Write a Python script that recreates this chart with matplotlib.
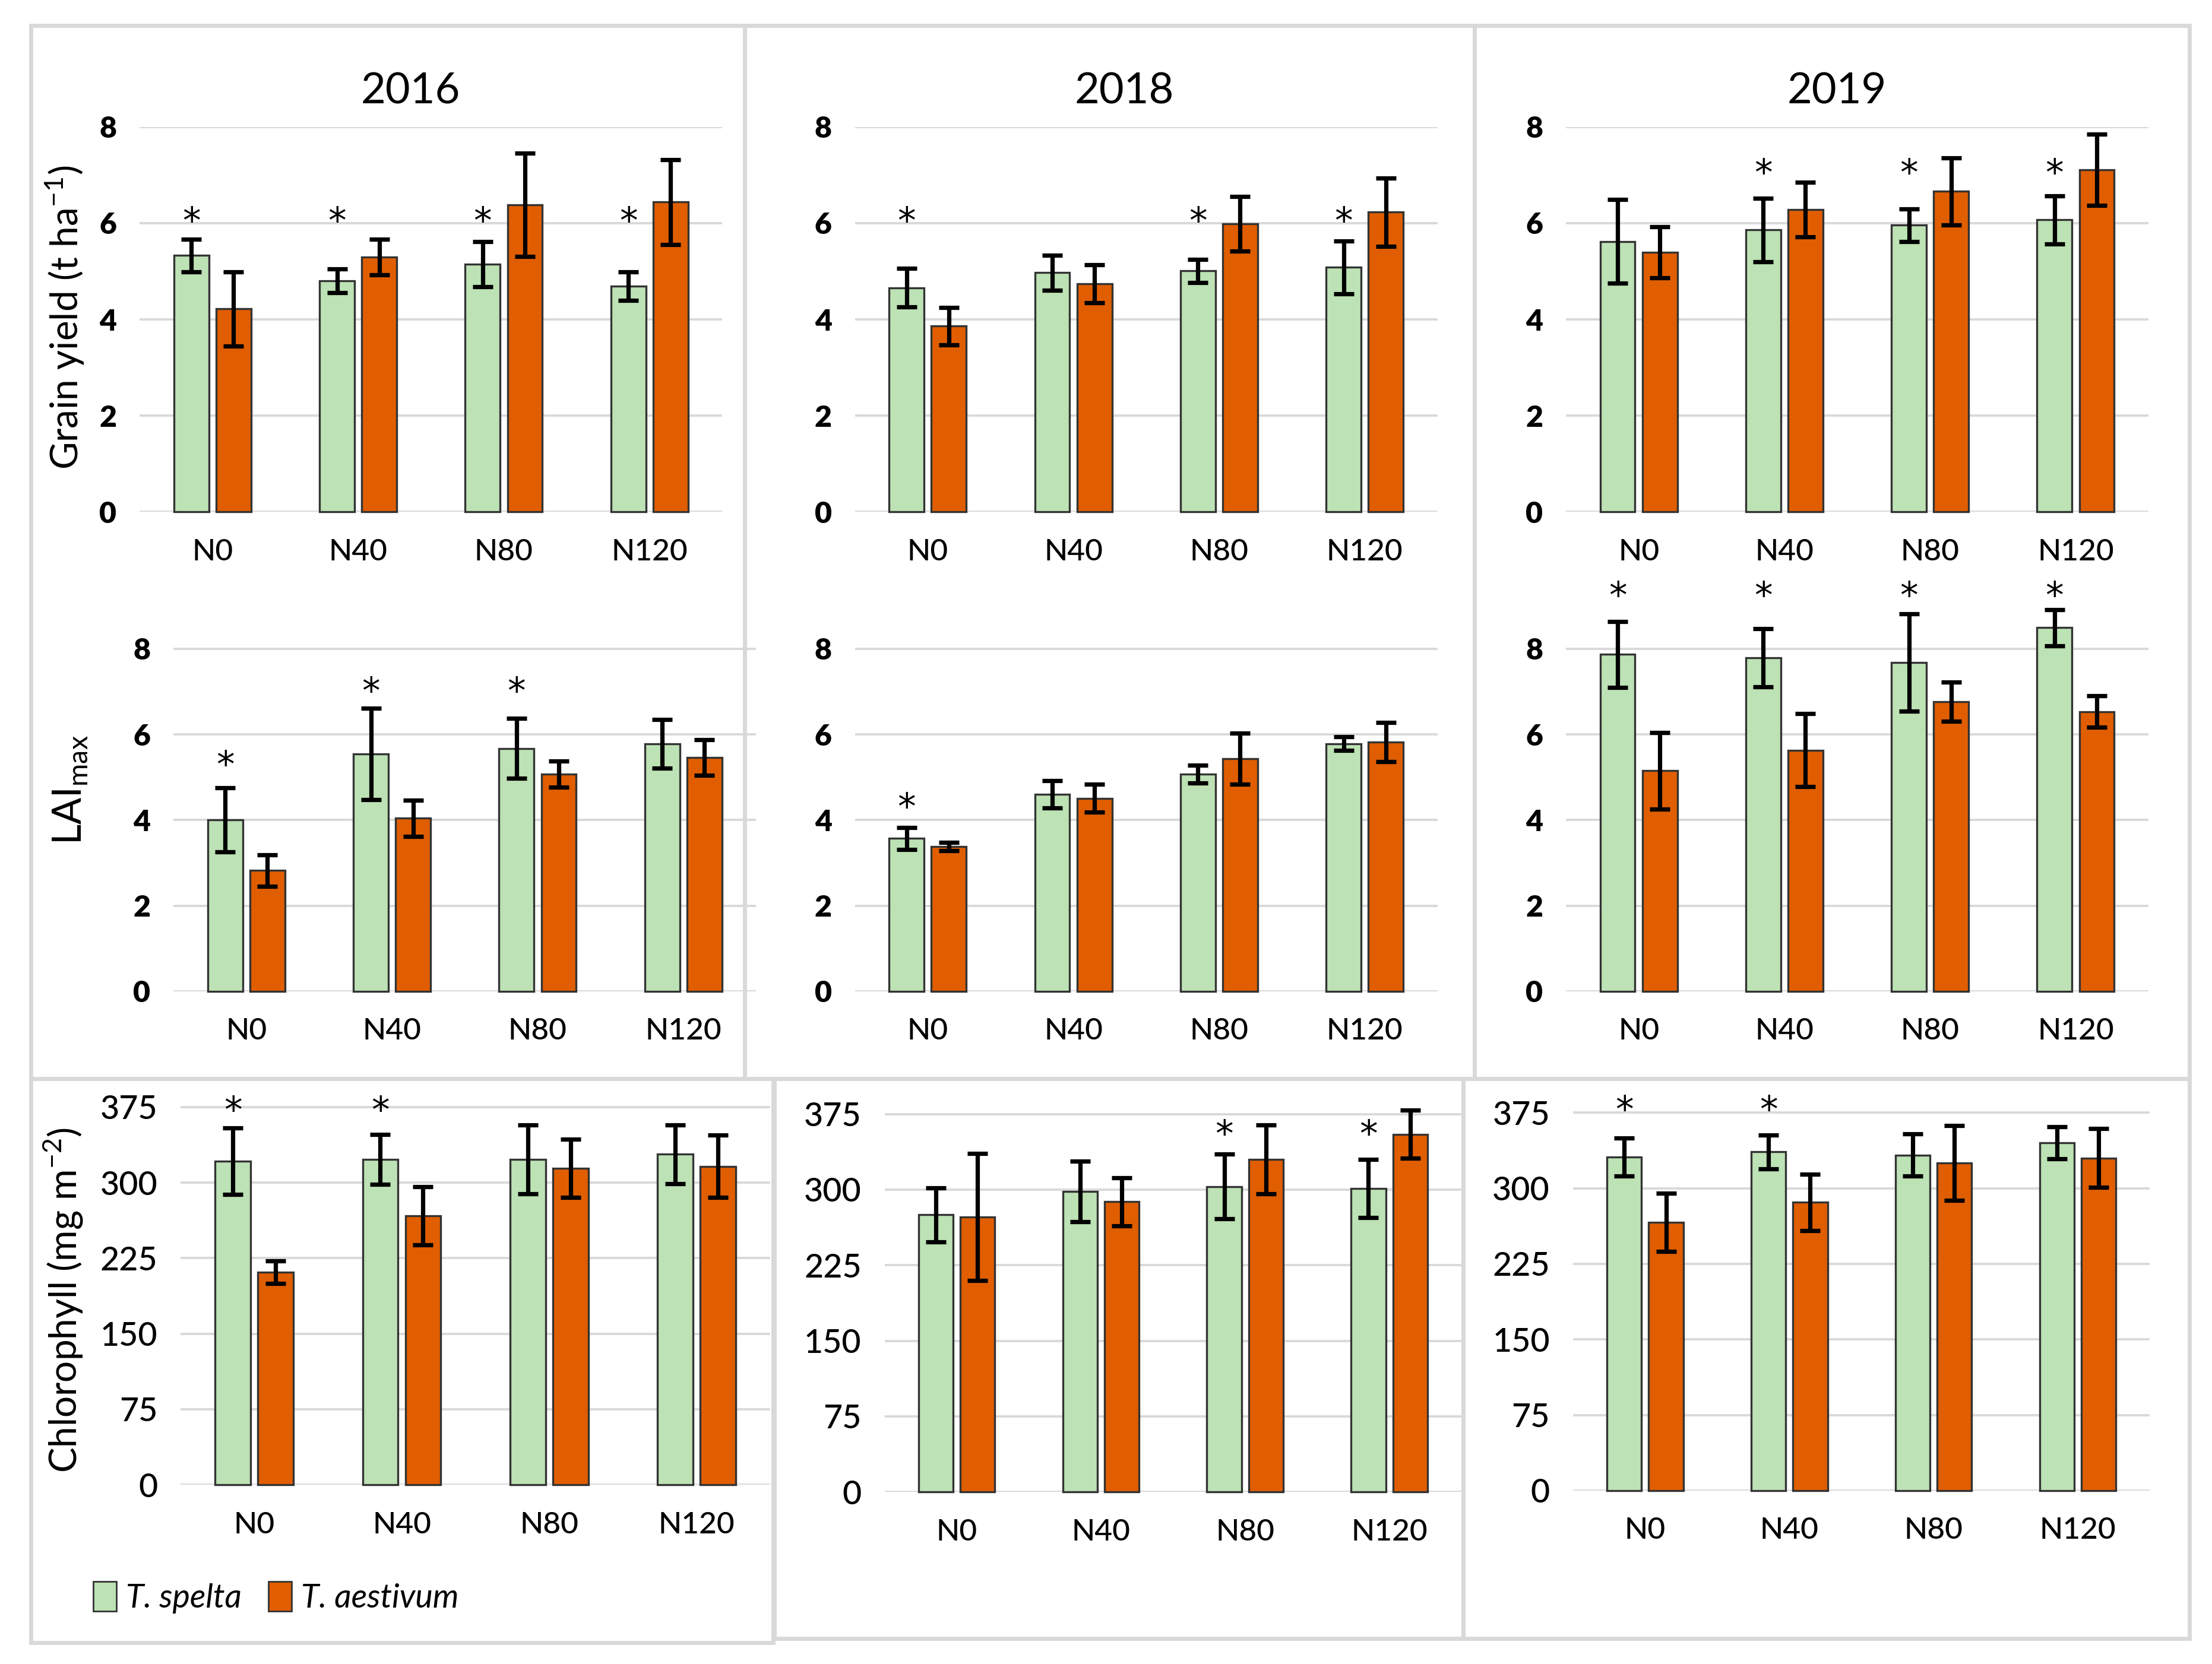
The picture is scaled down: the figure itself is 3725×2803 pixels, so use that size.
import matplotlib
matplotlib.use("Agg")
import matplotlib.pyplot as plt
from matplotlib.patches import Rectangle, Patch
import numpy as np

plt.rcParams['font.family'] = ['Lato', 'DejaVu Sans']

categories = ["N0", "N40", "N80", "N120"]
years = ["2016", "2018", "2019"]

# grain yield (t/ha)
gy_spelta = {"2016": [5.33, 4.80, 5.15, 4.69], "2018": [4.66, 4.97, 5.01, 5.08], "2019": [5.62, 5.86, 5.96, 6.07]}
gy_spelta_err = {"2016": [0.34, 0.25, 0.47, 0.30], "2018": [0.40, 0.36, 0.24, 0.55], "2019": [0.87, 0.66, 0.34, 0.50]}
gy_aest = {"2016": [4.22, 5.29, 6.38, 6.44], "2018": [3.86, 4.74, 5.99, 6.23], "2019": [5.40, 6.28, 6.66, 7.11]}
gy_aest_err = {"2016": [0.77, 0.37, 1.07, 0.88], "2018": [0.39, 0.39, 0.57, 0.71], "2019": [0.53, 0.57, 0.70, 0.74]}
gy_stars = {"2016": [6.0, 6.0, 6.0, 6.0], "2018": [6.0, None, 6.0, 6.0], "2019": [None, 7.0, 7.0, 7.0]}

# LAImax
lai_spelta = {"2016": [4.00, 5.54, 5.67, 5.78], "2018": [3.57, 4.60, 5.07, 5.78], "2019": [7.87, 7.79, 7.68, 8.49]}
lai_spelta_err = {"2016": [0.75, 1.07, 0.70, 0.57], "2018": [0.26, 0.32, 0.21, 0.16], "2019": [0.77, 0.68, 1.14, 0.42]}
lai_aest = {"2016": [2.82, 4.04, 5.07, 5.46], "2018": [3.38, 4.51, 5.43, 5.82], "2019": [5.15, 5.63, 6.76, 6.53]}
lai_aest_err = {"2016": [0.37, 0.42, 0.31, 0.41], "2018": [0.10, 0.32, 0.60, 0.46], "2019": [0.89, 0.85, 0.46, 0.37]}
lai_stars = {"2016": [5.25, 6.96, 6.96, None], "2018": [4.26, None, None, None], "2019": [9.2, 9.2, 9.2, 9.2]}

# chlorophyll (mg/m2)
chl_spelta = {"2016": [321, 323, 323, 328], "2018": [275, 298, 303, 301], "2019": [331, 336, 333, 345]}
chl_spelta_err = {"2016": [33, 25, 34, 29], "2018": [27, 30, 32, 29], "2019": [19, 17, 21, 16]}
chl_aest = {"2016": [211, 267, 314, 316], "2018": [273, 288, 330, 355], "2019": [266, 286, 325, 330]}
chl_aest_err = {"2016": [11, 29, 29, 31], "2018": [63, 24, 34, 24], "2019": [29, 28, 37, 29]}
chl_stars = {"2016": [370, 370, None, None], "2018": [None, None, 353, 353], "2019": [376, 376, None, None]}

green = "#bde2b5"
orange = "#e05e00"
W, H = 1568.0, 1180.0

fig = plt.figure(figsize=(18.625, 14.015), dpi=200)


def rect(left, width, top, bottom):
    return [left / W, 1 - bottom / H, width / W, (bottom - top) / H]


# light grey frames around each sub-figure
frames = [(22, 18, 528, 765), (528, 18, 1045, 765), (1045, 18, 1552, 765),
          (22, 765, 548, 1165), (549, 765, 1037, 1162), (1037, 765, 1552, 1162)]
for x0, y0, x1, y1 in frames:
    fig.add_artist(Rectangle((x0 / W, 1 - y1 / H), (x1 - x0) / W, (y1 - y0) / H,
                             transform=fig.transFigure, fill=False,
                             edgecolor="#d9d9d9", linewidth=2.5))


def draw(ax, sp, sp_err, ae, ae_err, stars, ylim, yticks, bold, ysize):
    x = np.arange(len(categories))
    w, off = 0.24, 0.145
    ax.bar(x - off, sp, w, color=green, edgecolor="#333333", linewidth=1.2, zorder=3, clip_on=False)
    ax.bar(x + off, ae, w, color=orange, edgecolor="#333333", linewidth=1.2, zorder=3, clip_on=False)
    for xs, v, e in [(x - off, sp, sp_err), (x + off, ae, ae_err)]:
        eb = ax.errorbar(xs, v, yerr=e, fmt="none", ecolor="black", elinewidth=2.6,
                         capsize=6, capthick=2.6, zorder=4)
        for art in eb.lines[1] + eb.lines[2]:
            art.set_clip_on(False)
    for i, s in enumerate(stars):
        if s is not None:
            ax.text(x[i] - off, s, "*", ha="center", va="center", fontsize=22,
                    family="DejaVu Sans", clip_on=False)
    ax.set_xlim(-0.5, 3.5)
    ax.set_ylim(*ylim)
    ax.set_yticks(yticks)
    ax.set_xticks(x)
    ax.set_xticklabels(categories, fontsize=18.5, fontweight="medium")
    for lab in ax.get_yticklabels():
        lab.set_fontsize(ysize)
        lab.set_fontweight("heavy" if bold else "medium")
    ax.tick_params(length=0)
    ax.tick_params(axis="x", pad=16)
    ax.tick_params(axis="y", pad=14)
    for sp_ in ax.spines.values():
        sp_.set_visible(False)
    ax.yaxis.grid(True, color="#d9d9d9", linewidth=1.4, zorder=0)
    ax.set_axisbelow(True)


gy_left = [99, 606, 1110]
lai_left = [123, 606, 1110]
chl_left = [128, 627, 1115]
chl_width = [418, 409, 409]
chl_bottom = [1053, 1058, 1057]
title_x = [291, 797, 1302]

for j, yr in enumerate(years):
    ax = fig.add_axes(rect(gy_left[j], 413, 90, 363))
    draw(ax, gy_spelta[yr], gy_spelta_err[yr], gy_aest[yr], gy_aest_err[yr], gy_stars[yr],
         (0, 8), [0, 2, 4, 6, 8], True, 18)
    fig.text(title_x[j] / W, 1 - 65 / H, yr, ha="center", va="center", fontsize=26)

    ax = fig.add_axes(rect(lai_left[j], 413, 703 - 9.4 * 30.375, 703))
    draw(ax, lai_spelta[yr], lai_spelta_err[yr], lai_aest[yr], lai_aest_err[yr], lai_stars[yr],
         (0, 9.4), [0, 2, 4, 6, 8], True, 18)

    b = chl_bottom[j]
    ax = fig.add_axes(rect(chl_left[j], chl_width[j], b - 385 * 268 / 375, b))
    draw(ax, chl_spelta[yr], chl_spelta_err[yr], chl_aest[yr], chl_aest_err[yr], chl_stars[yr],
         (0, 385), [0, 75, 150, 225, 300, 375], False, 20)

fig.text(46 / W, 1 - 225 / H, "Grain yield (t ha$^{\\mathregular{-1}}$)", rotation=90,
         ha="center", va="center", fontsize=23)
fig.text(50 / W, 1 - 560 / H, "LAI$_{\\mathregular{max}}$", rotation=90, ha="center", va="center", fontsize=24)
fig.text(45 / W, 1 - 922 / H, "Chlorophyll (mg m$^{\\mathregular{-2}}$)", rotation=90,
         ha="center", va="center", fontsize=23)

handles = [Patch(facecolor=green, edgecolor="#333333", label="T. spelta"),
           Patch(facecolor=orange, edgecolor="#333333", label="T. aestivum")]
fig.legend(handles=handles, loc="center left", bbox_to_anchor=(45 / W, 1 - 1133 / H), ncol=2,
           frameon=False, prop={"style": "italic", "size": 20}, handlelength=0.7,
           handleheight=1.0, handletextpad=0.3, columnspacing=0.8)

fig.savefig("out.png", dpi=200, facecolor="white")
